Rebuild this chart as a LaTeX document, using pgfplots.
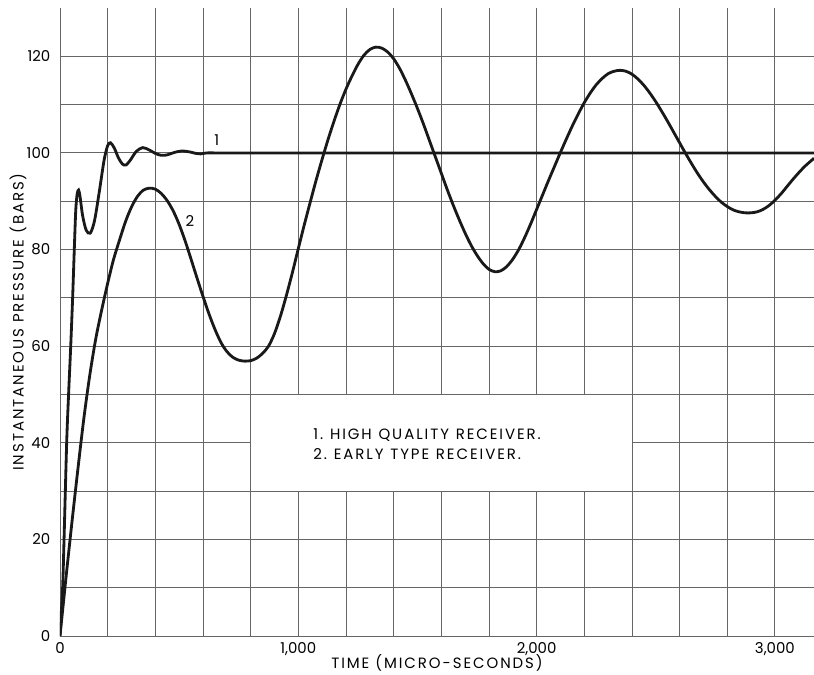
\documentclass[border=0pt]{standalone}
\usepackage{fontspec}
\setmainfont{Poppins}
\usepackage{pgfplots}
\pgfplotsset{compat=1.18}
\newcommand{\lbl}{\fontsize{8.5}{11}\selectfont\addfontfeatures{LetterSpace=13}}
\newcommand{\gap}{\hspace{0.45em}}
\begin{document}
\begin{tikzpicture}
\begin{axis}[
  scale only axis, width=15.08cm, height=12.56cm,
  xmin=0, xmax=3164, ymin=0, ymax=130,
  xtick={0,1000,2000,3000}, xticklabels={0,{1,000},{2,000},{3,000}},
  minor xtick={200,400,...,3000},
  ytick={0,20,...,120}, minor ytick={10,30,...,110},
  grid=both, grid style={black!60, line width=0.5pt},
  major tick length=0pt, minor tick length=0pt,
  axis line style={draw=none},
  tick label style={font=\fontsize{8.5}{10}\selectfont},
  yticklabel style={xshift=-2pt},
  /pgf/number format/assume math mode=true,
  xlabel={TIME (MICRO-SECONDS)},
  ylabel={INSTANTANEOUS PRESSURE (BARS)},
  label style={font=\lbl},
  xlabel style={at={([yshift=-0.54cm]axis description cs:0.5,0)}, anchor=center},
  ylabel style={at={([xshift=-0.84cm]axis description cs:0,0.5)}, anchor=center},
]
% legend box over the grid
\fill[white] (axis cs:800,30) rectangle (axis cs:2400,50);
\draw[black!60, line width=0.5pt] (axis cs:800,30) rectangle (axis cs:2400,50);
\node[anchor=west, align=left, inner sep=0pt, font=\lbl] at (axis cs:1062,39.7)
  {1.\gap HIGH\gap QUALITY\gap RECEIVER.\\2.\gap EARLY\gap TYPE\gap RECEIVER.};

% 1: high quality receiver
\addplot[smooth, line width=1.6pt, black!90] coordinates {
  (0,0) (11,10) (17,20) (28,40) (36,50) (45,60) (53,70) (60,80) (66,88)
  (72,91.5) (78,92.3) (84,91) (95,87) (110,84) (127,83.4) (145,86)
  (165,92) (185,98.5) (200,101.5) (212,102.1) (228,101) (245,99)
  (262,97.7) (277,97.5) (295,98.5) (320,100.3) (347,101.1) (375,100.6)
  (400,99.9) (425,99.5) (450,99.6) (480,100.1) (511,100.4) (545,100.2)
  (570,99.9) (590,99.8) (615,100) (650,100) (700,100) (1500,100) (3164,100)
};
% 2: early type receiver
\addplot[smooth, line width=1.6pt, black!90] coordinates {
  (0,0) (25,12) (50,23.5) (75,34.5) (100,45) (125,54) (150,61.5)
  (175,67.5) (200,73) (225,78) (250,82) (275,85.8) (300,88.8) (325,91)
  (350,92.3) (375,92.7) (400,92.5) (425,91.6) (450,90.1) (475,88)
  (500,85.2) (525,81.8) (550,78) (575,74.1) (600,70.3) (625,66.7)
  (650,63.5) (675,60.8) (700,58.9) (725,57.7) (750,57.1) (775,56.9)
  (800,57) (825,57.5) (850,58.5) (875,60) (900,62.6) (925,66.2)
  (950,70.5) (975,75.2) (1000,80.2) (1025,85.1) (1050,89.8) (1075,94.4)
  (1100,98.7) (1125,102.8) (1150,106.6) (1175,110.1) (1200,113.2)
  (1225,115.9) (1250,118.3) (1275,120.2) (1300,121.4) (1325,121.9)
  (1350,121.7) (1375,120.9) (1400,119.5) (1425,117.5) (1450,115)
  (1475,112.2) (1500,109.2) (1525,106) (1550,102.6) (1575,99.2)
  (1600,95.8) (1625,92.4) (1650,89.2) (1675,86.2) (1700,83.4)
  (1725,80.9) (1750,78.8) (1775,77.1) (1800,75.9) (1825,75.4)
  (1850,75.6) (1875,76.5) (1900,78) (1925,80) (1950,82.5) (1975,85.3)
  (2000,88.3) (2025,91.3) (2050,94.3) (2075,97.2) (2100,100.1)
  (2125,102.9) (2150,105.6) (2175,108.1) (2200,110.4) (2225,112.4)
  (2250,114.1) (2275,115.4) (2300,116.4) (2325,116.9) (2350,117.1)
  (2375,116.9) (2400,116.3) (2425,115.3) (2450,114) (2475,112.4)
  (2500,110.6) (2525,108.6) (2550,106.5) (2575,104.3) (2600,102.1)
  (2625,99.9) (2650,97.8) (2675,95.8) (2700,94) (2725,92.4) (2750,91)
  (2775,89.8) (2800,88.9) (2825,88.2) (2850,87.8) (2875,87.6)
  (2900,87.6) (2925,87.8) (2950,88.3) (2975,89.1) (3000,90.2)
  (3025,91.5) (3050,93) (3075,94.5) (3100,95.9) (3125,97.2) (3150,98.3)
  (3164,98.9)
};
\node[font=\lbl] at (axis cs:658,102.6) {1};
\node[font=\lbl] at (axis cs:545,86) {2};
\end{axis}
\pgfresetboundingbox
\useasboundingbox (-1.2cm,-0.76cm) rectangle (15.08cm,12.72cm);
\end{tikzpicture}
\end{document}
